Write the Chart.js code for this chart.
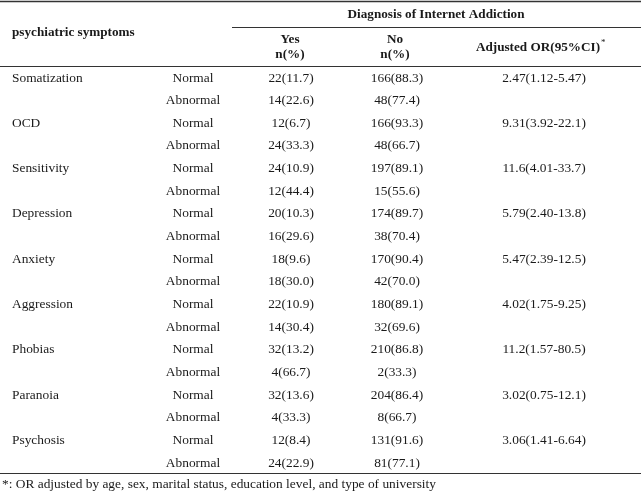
<!DOCTYPE html>
<html>
<head>
<meta charset="utf-8">
<script src="https://cdn.jsdelivr.net/npm/chart.js@4.4.1/dist/chart.umd.min.js"></script>
<style>
  html, body { margin: 0; padding: 0; background: #fff; }
  #wrap { width: 641px; height: 492px; }
</style>
</head>
<body>
<div id="wrap"><canvas id="table" width="641" height="492"></canvas></div>
<script>
// table data
const symptoms = ["Somatization", "OCD", "Sensitivity", "Depression", "Anxiety", "Aggression", "Phobias", "Paranoia", "Psychosis"];
const statuses = ["Normal", "Abnormal"];

const yesNormal = [22, 12, 24, 20, 18, 22, 32, 32, 12];
const yesNormalPct = [11.7, 6.7, 10.9, 10.3, 9.6, 10.9, 13.2, 13.6, 8.4];
const yesAbnormal = [14, 24, 12, 16, 18, 14, 4, 4, 24];
const yesAbnormalPct = [22.6, 33.3, 44.4, 29.6, 30.0, 30.4, 66.7, 33.3, 22.9];

const noNormal = [166, 166, 197, 174, 170, 180, 210, 204, 131];
const noNormalPct = [88.3, 93.3, 89.1, 89.7, 90.4, 89.1, 86.8, 86.4, 91.6];
const noAbnormal = [48, 48, 15, 38, 42, 32, 2, 8, 81];
const noAbnormalPct = [77.4, 66.7, 55.6, 70.4, 70.0, 69.6, 33.3, 66.7, 77.1];

const orValue = ["2.47", "9.31", "11.6", "5.79", "5.47", "4.02", "11.2", "3.02", "3.06"];
const orLow = ["1.12", "3.92", "4.01", "2.40", "2.39", "1.75", "1.57", "0.75", "1.41"];
const orHigh = ["5.47", "22.1", "33.7", "13.8", "12.5", "9.25", "80.5", "12.1", "6.64"];

const groupTitle = "Diagnosis of Internet Addiction";
const rowTitle = "psychiatric symptoms";
const footnote = "*: OR adjusted by age, sex, marital status, education level, and type of university";

// layout (x in pixels of the x scale, y in row units)
const colX = { label: 12, status: 193, yes: 291, no: 397, or: 544 };
const headX = { yes: 290, no: 395, or: 538 };
const ink = "#1a1a1a";
const bodyFont = "13.4px 'Liberation Serif', 'DejaVu Serif', serif";
const boldFont = "bold 13.2px 'Liberation Serif', 'DejaVu Serif', serif";

function cell(n, pct) {
    return n + "(" + pct.toFixed(1) + ")";
}

// build row-wise points
const labelPts = [], statusPts = [], yesPts = [], noPts = [], orPts = [];
symptoms.forEach((s, i) => {
    const r = i * 2;
    labelPts.push({ x: colX.label, y: r, text: s });
    statusPts.push({ x: colX.status, y: r, text: statuses[0] });
    statusPts.push({ x: colX.status, y: r + 1, text: statuses[1] });
    yesPts.push({ x: colX.yes, y: r, text: cell(yesNormal[i], yesNormalPct[i]) });
    yesPts.push({ x: colX.yes, y: r + 1, text: cell(yesAbnormal[i], yesAbnormalPct[i]) });
    noPts.push({ x: colX.no, y: r, text: cell(noNormal[i], noNormalPct[i]) });
    noPts.push({ x: colX.no, y: r + 1, text: cell(noAbnormal[i], noAbnormalPct[i]) });
    orPts.push({ x: colX.or, y: r, text: orValue[i] + "(" + orLow[i] + "-" + orHigh[i] + ")" });
});

const headPts = [
    { x: 436, y: -2.78, text: groupTitle, align: "center" },
    { x: colX.label, y: -1.99, text: rowTitle, align: "left" },
    { x: headX.yes, y: -1.68, text: "Yes", align: "center" },
    { x: headX.yes, y: -1.02, text: "n(%)", align: "center" },
    { x: headX.no, y: -1.68, text: "No", align: "center" },
    { x: headX.no, y: -1.02, text: "n(%)", align: "center" },
    { x: headX.or, y: -1.35, text: "Adjusted OR(95%CI)", align: "center", star: true }
];
const footPts = [{ x: 2, y: 17.93, text: footnote }];

// horizontal rules: [y in row units, x start, x end, width]
const rules = [
    [-3.40, 0, 641, 1.6],
    [-2.25, 232, 641, 1.2],
    [-0.53, 0, 641, 1.2],
    [17.44, 0, 641, 1.2]
];

function ds(pts, align, font) {
    return { data: pts, align: align, font: font, pointRadius: 0, pointHoverRadius: 0, showLine: false };
}

const tablePlugin = {
    id: "tableText",
    beforeDatasetsDraw(chart) {
        const { ctx, scales } = chart;
        ctx.save();
        ctx.strokeStyle = "#333";
        rules.forEach(r => {
            const y = Math.round(scales.y.getPixelForValue(r[0])) + 0.5;
            ctx.lineWidth = r[3];
            ctx.beginPath();
            ctx.moveTo(scales.x.getPixelForValue(r[1]), y);
            ctx.lineTo(scales.x.getPixelForValue(r[2]), y);
            ctx.stroke();
        });
        ctx.restore();
    },
    afterDatasetsDraw(chart) {
        const ctx = chart.ctx;
        ctx.save();
        ctx.fillStyle = ink;
        ctx.textBaseline = "middle";
        chart.data.datasets.forEach((d, di) => {
            const meta = chart.getDatasetMeta(di);
            meta.data.forEach((pt, i) => {
                const p = d.data[i];
                ctx.font = d.font;
                ctx.textAlign = p.align || d.align;
                ctx.fillText(p.text, pt.x, pt.y);
                if (p.star) {
                    const w = ctx.measureText(p.text).width;
                    ctx.font = "9px 'Liberation Serif', serif";
                    ctx.textAlign = "left";
                    ctx.fillText("*", pt.x + w / 2 + 1, pt.y - 5);
                }
            });
        });
        ctx.restore();
    }
};

new Chart(document.getElementById("table"), {
    type: "scatter",
    data: {
        datasets: [
            ds(headPts, "center", boldFont),
            ds(labelPts, "left", bodyFont),
            ds(statusPts, "center", bodyFont),
            ds(yesPts, "center", bodyFont),
            ds(noPts, "center", bodyFont),
            ds(orPts, "center", bodyFont),
            ds(footPts, "left", bodyFont)
        ]
    },
    options: {
        responsive: false,
        animation: false,
        layout: { padding: 0 },
        plugins: { legend: { display: false }, tooltip: { enabled: false } },
        scales: {
            x: { type: "linear", min: 0, max: 641, display: false },
            y: { type: "linear", min: -3.444, max: 18.278, reverse: true, display: false }
        }
    },
    plugins: [tablePlugin]
});
</script>
</body>
</html>
